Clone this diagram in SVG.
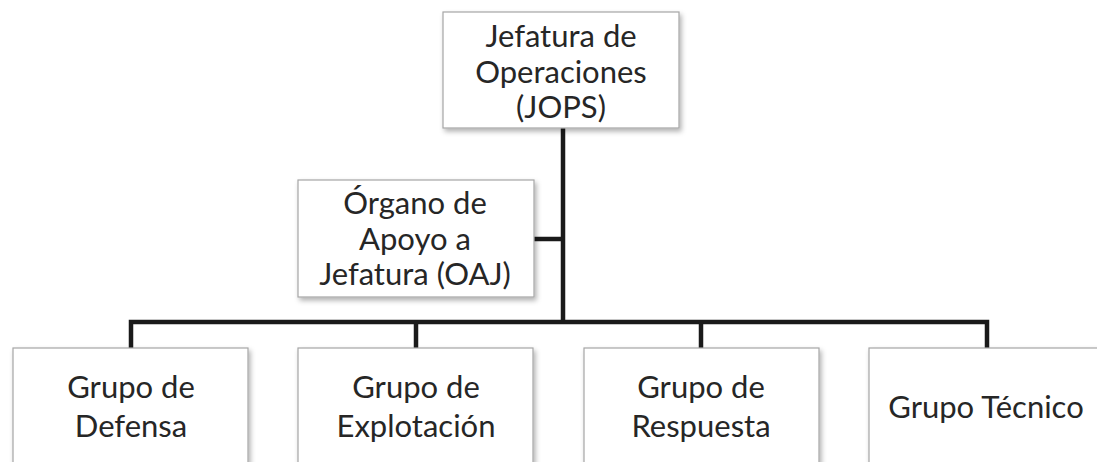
<svg xmlns="http://www.w3.org/2000/svg" width="1097" height="462" viewBox="0 0 1097 462">
<defs>
<filter id="sh" x="-10%" y="-10%" width="120%" height="130%">
<feDropShadow dx="2" dy="3" stdDeviation="2.5" flood-color="#000" flood-opacity="0.3"/>
</filter>
<style>
.box{fill:#fff;stroke:#a6a6a6;stroke-width:1.2;filter:url(#sh)}
.t{font-family:Lato,"Open Sans",sans-serif;font-size:31px;fill:#262626;text-anchor:middle}
.ln{stroke:#1a1a1a;stroke-width:4.5;fill:none;stroke-linejoin:miter}
</style>
</defs>
<rect width="1097" height="462" fill="#fff"/>
<g id="connectors">
<path class="ln" d="M563 128 V322"/>
<path class="ln" d="M534 239 H563"/>
<path class="ln" d="M131 348 V322 H987 V348"/>
<path class="ln" d="M416 322 V348"/>
<path class="ln" d="M701 322 V348"/>
</g>
<g id="jops">
<rect class="box" x="443" y="12" width="236" height="116"/>
<text class="t" x="561" y="47">Jefatura de</text>
<text class="t" x="561" y="83">Operaciones</text>
<text class="t" x="561" y="118">(JOPS)</text>
</g>
<g id="oaj">
<rect class="box" x="298" y="180" width="236" height="117"/>
<text class="t" x="415" y="214">Órgano de</text>
<text class="t" x="415" y="250">Apoyo a</text>
<text class="t" x="415" y="285">Jefatura (OAJ)</text>
</g>
<g id="defensa">
<rect class="box" x="13" y="348" width="235" height="130"/>
<text class="t" x="131" y="398">Grupo de</text>
<text class="t" x="131" y="437">Defensa</text>
</g>
<g id="explotacion">
<rect class="box" x="298" y="348" width="235" height="130"/>
<text class="t" x="416" y="398">Grupo de</text>
<text class="t" x="416" y="437">Explotación</text>
</g>
<g id="respuesta">
<rect class="box" x="584" y="348" width="235" height="130"/>
<text class="t" x="701" y="398">Grupo de</text>
<text class="t" x="701" y="437">Respuesta</text>
</g>
<g id="tecnico">
<rect class="box" x="869" y="348" width="236" height="130"/>
<text class="t" x="986" y="418">Grupo Técnico</text>
</g>
</svg>
